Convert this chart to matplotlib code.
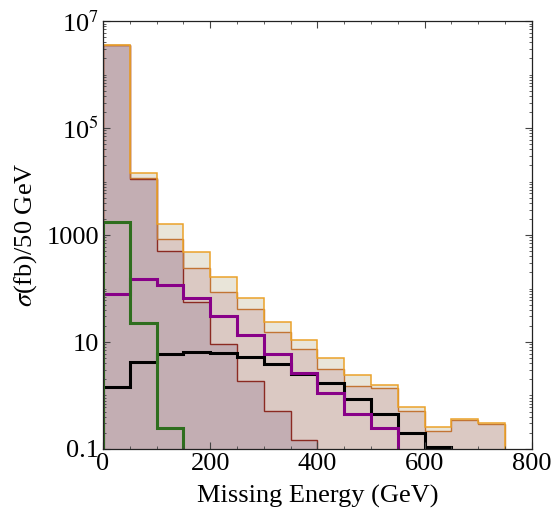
import numpy as np
import matplotlib
matplotlib.use("Agg")
import matplotlib.pyplot as plt
from matplotlib.ticker import FixedLocator, FixedFormatter

plt.rcParams['font.family'] = ['Liberation Serif', 'DejaVu Serif']
plt.rcParams['mathtext.fontset'] = 'stix'

# bin edges (GeV)
edges_total = np.arange(0, 751, 50)
edges_red = np.arange(0, 401, 50)
edges_green = np.arange(0, 151, 50)
edges_purple = np.arange(0, 551, 50)
edges_black = np.arange(0, 651, 50)

# sigma (fb) per 50 GeV bin
orange_vals = [3.5e6, 1.46e4, 1600, 477, 163, 67, 23.4, 11, 4.93, 2.38, 1.55, 0.60, 0.253, 0.36, 0.30]
brown_vals = [3.5e6, 1.16e4, 830, 240, 84.5, 42, 15.2, 7.4, 3.08, 1.51, 1.40, 0.52, 0.214, 0.35, 0.29]
red_vals = [3.5e6, 1.12e4, 497, 55, 9, 1.87, 0.52, 0.149]
green_vals = [1770, 22.7, 0.243]
purple_vals = [78.7, 147.5, 117, 65.4, 31.1, 13.4, 6.0, 2.59, 1.10, 0.46, 0.246]
black_vals = [1.47, 4.2, 5.85, 6.55, 6.3, 5.3, 3.87, 2.55, 1.69, 0.85, 0.45, 0.2, 0.107]

ytick_vals = [0.1, 10, 1000, 1e5, 1e7]
ytick_labels = ['0.1', '10', '1000', r'10$^{5}$', r'10$^{7}$']
xtick_vals = [0, 200, 400, 600, 800]

fig = plt.figure(figsize=(5.54, 5.14), dpi=100)
ax = fig.add_axes([0.186, 0.1265, 0.7737, 0.8325])
ax.set_yscale('log')

base = 1e-3
# fills
ax.stairs(orange_vals, edges_total, baseline=base, fill=True, color='#e9e5d9', lw=0)
ax.stairs(brown_vals, edges_total, baseline=base, fill=True, color='#dbc9c3', lw=0)
ax.stairs(red_vals, edges_red, baseline=base, fill=True, color='#c3aeb3', lw=0)
# outlines
ax.stairs(red_vals, edges_red, baseline=base, fill=False, color='#8b2a22', lw=1.0)
ax.stairs(brown_vals, edges_total, baseline=base, fill=False, color='#c27434', lw=1.0)
ax.stairs(orange_vals, edges_total, baseline=base, fill=False, color='#eba22a', lw=1.1)
# lines
ax.stairs(black_vals, edges_black, baseline=base, fill=False, color='black', lw=2.2)
ax.stairs(purple_vals, edges_purple, baseline=base, fill=False, color='#880088', lw=2.2)
ax.stairs(green_vals, edges_green, baseline=base, fill=False, color='#2e6e1e', lw=2.2)

ax.set_xlim(0, 800)
ax.set_ylim(0.1, 1e7)

ax.xaxis.set_major_locator(FixedLocator(xtick_vals))
ax.xaxis.set_minor_locator(FixedLocator(np.arange(0, 801, 50)))
ax.yaxis.set_major_locator(FixedLocator(ytick_vals))
ax.yaxis.set_major_formatter(FixedFormatter(ytick_labels))
minor_y = []
for d in range(-1, 7):
    for m in range(1, 10):
        v = m * 10.0 ** d
        if v not in ytick_vals and 0.1 <= v <= 1e7:
            minor_y.append(v)
ax.yaxis.set_minor_locator(FixedLocator(minor_y))
ax.yaxis.set_minor_formatter(FixedFormatter([''] * len(minor_y)))

ax.tick_params(which='both', direction='in', top=True, right=True, color='#444444')
ax.tick_params(which='major', length=5, width=0.8, labelsize=19, pad=3)
ax.tick_params(which='minor', length=2.5, width=0.6)
for s in ax.spines.values():
    s.set_color('#222222')
    s.set_linewidth(0.9)

ax.set_xlabel('Missing Energy (GeV)', fontsize=19, labelpad=7)
ax.set_ylabel(r'$\sigma$(fb)/50 GeV', fontsize=19, labelpad=5)

fig.savefig('out.png', dpi=100)
